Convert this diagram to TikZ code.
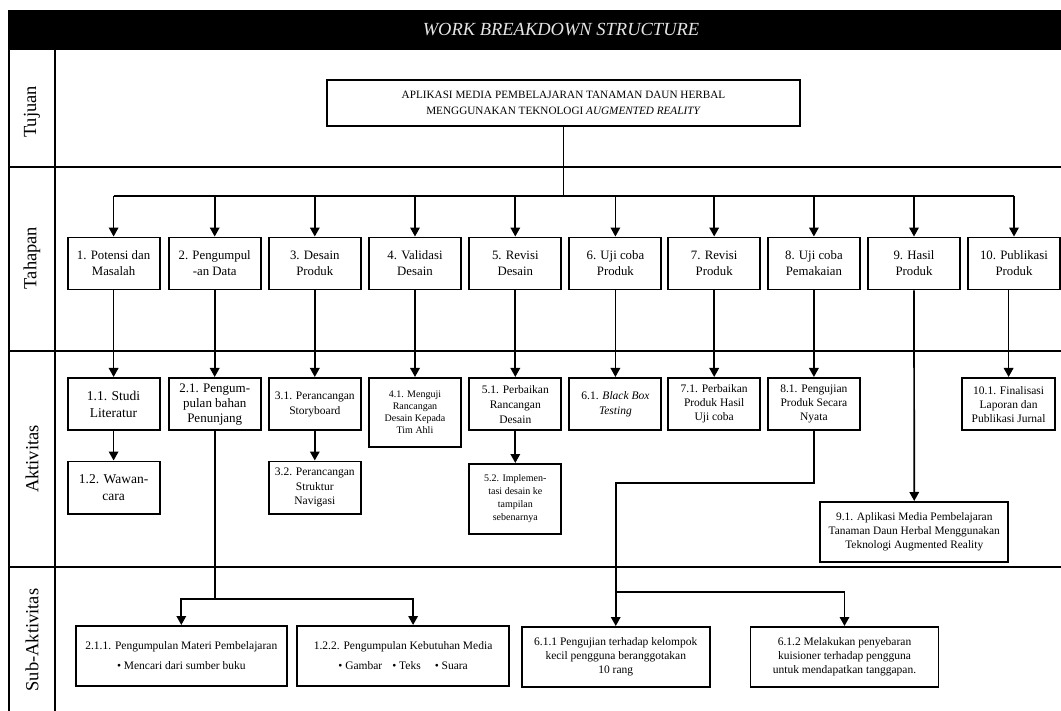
\documentclass[tikz,border=0pt]{standalone}
\usepackage{fontspec}
\setmainfont{Liberation Serif}
\usetikzlibrary{arrows.meta,calc}
\newcommand{\wfs}[2]{\fontsize{#1}{#2}\selectfont}
\begin{document}
\begin{tikzpicture}[x=1pt,y=-1pt,
  wbox/.style={draw,line width=1.9pt,align=center,inner sep=1pt,minimum width=92pt},
  gridline/.style={line width=1.8pt},
  conn/.style={line width=1.7pt},
  arr/.style={conn,-{Triangle[width=9.5pt,length=9pt]}},
  lbl/.style={rotate=90,font=\wfs{18.5}{22}}
]
\useasboundingbox (0,0) rectangle (1061,711);

% title bar
\fill[black] (8,10) rectangle (1061,50);
\node[text=white!90!black,font=\wfs{18.5}{22}\itshape] (title) at (561,30) {WORK BREAKDOWN STRUCTURE};

% frame
\draw[gridline] (9,50) -- (9,711);
\draw[gridline] (55,50) -- (55,711);
\foreach \yy in {167,351,567} \draw[gridline] (9,\yy) -- (1061,\yy);

% row labels
\node[lbl] (ltu) at (32,112) {Tujuan};
\node[lbl] (lta) at (32,258) {Tahapan};
\node[lbl] (lak) at (32,459) {Aktivitas};
\node[lbl] (lsu) at (32,640) {Sub-Aktivitas};

% goal
\node[wbox,minimum width=473pt,minimum height=46pt,font=\wfs{11.2}{16}] (goal) at (563.5,103)
  {APLIKASI MEDIA PEMBELAJARAN TANAMAN DAUN HERBAL\\MENGGUNAKAN TEKNOLOGI \textit{AUGMENTED REALITY}};

% tahapan
\tikzset{tbox/.style={wbox,minimum height=52pt,font=\wfs{12.8}{16}}}
\node[tbox] (t1) at (113.6,263.5) {1. Potensi dan\\Masalah};
\node[tbox] (t2) at (214.7,263.5) {2. Pengumpul\\-an Data};
\node[tbox] (t3) at (314.8,263.5) {3. Desain\\Produk};
\node[tbox] (t4) at (415,263.5) {4. Validasi\\Desain};
\node[tbox] (t5) at (515.3,263.5) {5. Revisi\\Desain};
\node[tbox] (t6) at (615.4,263.5) {6. Uji coba\\Produk};
\node[tbox] (t7) at (714.2,263.5) {7. Revisi\\Produk};
\node[tbox] (t8) at (813.9,263.5) {8. Uji coba\\Pemakaian};
\node[tbox] (t9) at (914,263.5) {9. Hasil\\Produk};
\node[tbox] (t10) at (1014,263.5) {10. Publikasi\\Produk};

% aktivitas
\tikzset{abox/.style={wbox,anchor=north,minimum height=52.5pt}}
\node[abox,font=\wfs{13.5}{16.5}] (a11) at (113.6,377) {1.1. Studi\\Literatur};
\node[abox,font=\wfs{13.5}{16.5}] (a12) at (113.6,460.5) {1.2. Wawan-\\cara};
\node[abox,font=\wfs{13}{15}] (a21) at (214.7,377) {2.1. Pengum-\\pulan bahan\\Penunjang};
\node[abox,font=\wfs{11.5}{15}] (a31) at (314.8,377) {3.1. Perancangan\\Storyboard};
\node[abox,font=\wfs{11.5}{14.5}] (a32) at (314.8,460.5) {3.2. Perancangan\\Struktur\\Navigasi};
\node[abox,minimum height=69pt,font=\wfs{10}{12}] (a41) at (415,377) {4.1. Menguji\\Rancangan\\Desain Kepada\\Tim Ahli};
\node[abox,font=\wfs{11.5}{15}] (a51) at (515.3,377) {5.1. Perbaikan\\Rancangan\\Desain};
\node[abox,minimum height=70pt,font=\wfs{10}{13}] (a52) at (515.3,463) {5.2. Implemen-\\tasi desain ke\\tampilan\\sebenarnya};
\node[abox,font=\wfs{11.5}{15}] (a61) at (615.4,377) {6.1. \textit{Black Box}\\\textit{Testing}};
\node[abox,font=\wfs{11.5}{14}] (a71) at (714.2,377) {7.1. Perbaikan\\Produk Hasil\\Uji coba};
\node[abox,font=\wfs{11.5}{14}] (a81) at (813.9,377) {8.1. Pengujian\\Produk Secara\\Nyata};
\node[abox,minimum width=92.5pt,font=\wfs{11.5}{14}] (a101) at (1008.6,377) {10.1. Finalisasi\\Laporan dan\\Publikasi Jurnal};
\node[abox,minimum width=188pt,minimum height=60pt,font=\wfs{11.4}{14}] (a91) at (914.25,501) {9.1. Aplikasi Media Pembelajaran\\Tanaman Daun Herbal Menggunakan\\Teknologi Augmented Reality};

% sub-aktivitas
\tikzset{sbox/.style={wbox,anchor=north,minimum height=60pt}}
\node[sbox,minimum width=211pt,font=\wfs{11.5}{20}] (s211) at (181.3,625) {2.1.1. Pengumpulan Materi Pembelajaran\\• Mencari dari sumber buku};
\node[sbox,minimum width=212pt,font=\wfs{11.5}{20}] (s122) at (403.1,625) {1.2.2. Pengumpulan Kebutuhan Media\\• Gambar\hspace{10pt}• Teks\hspace{14pt}• Suara};
\node[sbox,minimum width=188pt,font=\wfs{11.5}{14}] (s611) at (615.75,626) {6.1.1 Pengujian terhadap kelompok\\kecil pengguna beranggotakan\\10 rang};
\node[sbox,minimum width=188pt,font=\wfs{11.5}{14}] (s612) at (844.5,626) {6.1.2 Melakukan penyebaran\\kuisioner terhadap pengguna\\untuk mendapatkan tanggapan.};

% connectors goal -> tahapan
\coordinate (bar) at (563.5,196);
\draw[conn] (goal.south) -- (bar);
\draw[conn] (t1.north |- bar) -- (t10.north |- bar);
\foreach \n in {t1,t2,t3,t4,t5,t6,t7,t8,t9,t10} \draw[arr] (\n.north |- bar) -- (\n.north);

% tahapan -> aktivitas
\draw[arr] (t1.south) -- (a11.north);
\draw[arr] (a11.south) -- (a12.north);
\draw[arr] (t2.south) -- (a21.north);
\draw[arr] (t3.south) -- (a31.north);
\draw[arr] (a31.south) -- (a32.north);
\draw[arr] (t4.south) -- (a41.north);
\draw[arr] (t5.south) -- (a51.north);
\draw[arr] (a51.south) -- (a52.north);
\draw[arr] (t6.south) -- (a61.north);
\draw[arr] (t7.south) -- (a71.north);
\draw[arr] (t8.south) -- (a81.north);
\draw[arr] (t9.south) -- (a91.north);
\draw[arr] (t10.south -| a101.north) -- (a101.north);

% aktivitas -> sub-aktivitas
\coordinate (j21) at (214.7,599);
\draw[conn] (a21.south) -- (j21);
\draw[arr] (j21) -| (s211.north);
\draw[arr] (j21) -| ([xshift=10pt]s122.north);

\coordinate (j81) at (615.75,483);
\coordinate (j6) at (615.75,592);
\draw[arr] (a81.south) |- (j81) -- (s611.north);
\draw[arr] (j6) -| (s612.north);
\end{tikzpicture}
\end{document}
